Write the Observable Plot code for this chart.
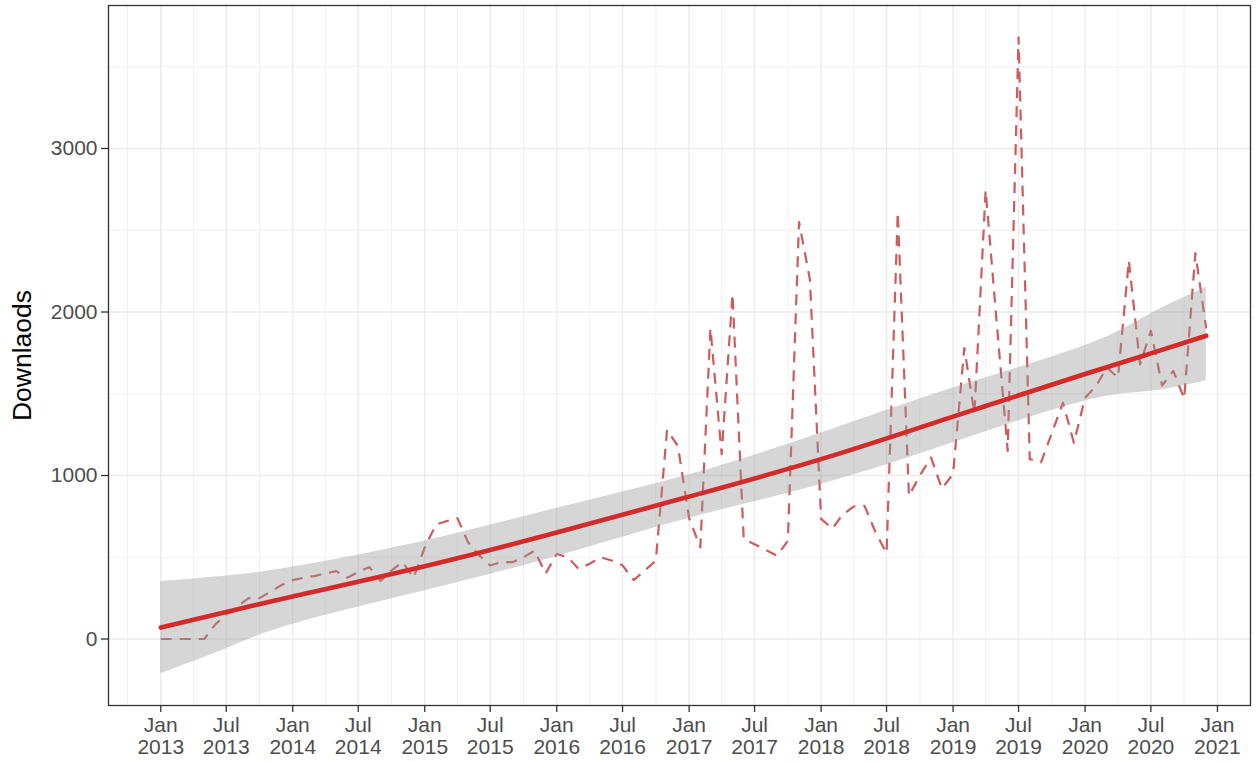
<!DOCTYPE html>
<html><head><meta charset="utf-8">
<script src="https://cdn.jsdelivr.net/npm/d3@7"></script>
<script src="https://cdn.jsdelivr.net/npm/@observablehq/plot@0.6"></script>
<style>body{margin:0;background:#fff} #chart svg{display:block}</style>
</head><body><div id="chart"></div>
<script>
// Monthly downloads, Jan 2013 – Dec 2020
const firstMonth = "2013-01";
const lastMonth = "2020-12";
const downloads = [
  0,0,0,0,0,90,150,200,250,250,290,330,
  360,375,385,400,415,375,410,440,355,420,470,375,
  560,700,720,740,590,510,450,470,470,500,540,400,
  520,500,430,460,500,480,450,360,420,480,1280,1180,
  740,560,1900,1130,2110,610,580,545,510,600,2550,2200,
  735,675,760,810,815,650,525,2610,875,1000,1110,920,
  1010,1780,1380,2745,1950,1150,3680,1100,1080,1260,1445,1200,
  1475,1550,1660,1600,2315,1680,1885,1550,1640,1470,2360,1900
];
// Smooth trend with 95% band
const smoothMonths = ["2013-01","2013-07","2014-01","2015-01","2016-01","2017-01","2018-01","2019-01","2020-01","2020-07","2020-12"];
const smoothFit   = [70, 165, 260, 445, 651, 871, 1100, 1360, 1621, 1747, 1855];
const smoothLower = [-212, -60, 90, 295, 505, 738, 945, 1200, 1455, 1515, 1580];
const smoothUpper = [351, 385, 440, 600, 800, 1005, 1260, 1535, 1795, 1990, 2150];
// Axis ticks
const xMajorTicks = ["2013-01","2013-07","2014-01","2014-07","2015-01","2015-07","2016-01","2016-07","2017-01","2017-07","2018-01","2018-07","2019-01","2019-07","2020-01","2020-07","2021-01"];
const xMinorTicks = ["2012-10","2013-04","2013-10","2014-04","2014-10","2015-04","2015-10","2016-04","2016-10","2017-04","2017-10","2018-04","2018-10","2019-04","2019-10","2020-04","2020-10","2021-04"];
const yMajorTicks = [0, 1000, 2000, 3000];
const yMinorTicks = [500, 1500, 2500, 3500];
const yTitle = "Downlaods";

const parse = s => new Date(s + "-01T00:00:00Z");
const months = d3.utcMonth.range(parse(firstMonth), d3.utcMonth.offset(parse(lastMonth), 1));
const data = months.map((d, i) => ({date: d, value: downloads[i]}));
const smooth = smoothMonths.map((m, i) => ({date: parse(m), fit: smoothFit[i], lo: smoothLower[i], hi: smoothUpper[i]}));

const x0 = months[0], x1 = months[months.length - 1];
const xs = x1 - x0;
const xDomain = [new Date(+x0 - 0.05 * xs), new Date(+x1 + 0.05 * xs)];
const yMin = Math.min(d3.min(downloads), d3.min(smoothLower));
const yMax = Math.max(d3.max(downloads), d3.max(smoothUpper));
const ys = yMax - yMin;
const yDomain = [yMin - 0.05 * ys, yMax + 0.05 * ys];

const font = "'Liberation Sans', Arial, Helvetica, sans-serif";
const fmt = d3.utcFormat("%b\n%Y");

const chart = Plot.plot({
  width: 1256,
  height: 762,
  marginLeft: 108,
  marginRight: 6,
  marginTop: 5,
  marginBottom: 57,
  style: {fontFamily: font, background: "#fff"},
  x: {type: "utc", domain: xDomain, range: [108, 1258]},
  y: {domain: yDomain},
  marks: [
    Plot.gridX(xMinorTicks.map(parse), {stroke: "#ebebeb", strokeOpacity: 1, strokeWidth: 0.7}),
    Plot.gridY(yMinorTicks, {stroke: "#ebebeb", strokeOpacity: 1, strokeWidth: 0.7}),
    Plot.gridX(xMajorTicks.map(parse), {stroke: "#ebebeb", strokeOpacity: 1, strokeWidth: 1.4}),
    Plot.gridY(yMajorTicks, {stroke: "#ebebeb", strokeOpacity: 1, strokeWidth: 1.4}),
    Plot.line(data, {x: "date", y: "value", stroke: "indianred", strokeWidth: 2.2, strokeDasharray: "11,8", strokeLinecap: "butt"}),
    Plot.areaY(smooth, {x: "date", y1: "lo", y2: "hi", fill: "#999999", fillOpacity: 0.4, curve: "natural"}),
    Plot.line(smooth, {x: "date", y: "fit", stroke: "#d42a2a", strokeWidth: 4.6, curve: "natural"}),
    Plot.frame({stroke: "#333333", strokeWidth: 1.3}),
    Plot.axisX(xMajorTicks.map(parse), {
      tickSize: 7, tickPadding: 4, stroke: "#333333", strokeWidth: 1.3,
      fill: "#4d4d4d", fontSize: 21, lineHeight: 1.05,
      tickFormat: fmt, label: null
    }),
    Plot.axisY(yMajorTicks, {
      tickSize: 7, tickPadding: 4, stroke: "#333333", strokeWidth: 1.3,
      fill: "#4d4d4d", fontSize: 21, tickFormat: d => String(d), label: null
    }),
    Plot.text([yTitle], {frameAnchor: "left", textAnchor: "middle", dx: -86, rotate: -90, fontSize: 26.5, fill: "#000", text: d => d})
  ]
});
document.getElementById("chart").appendChild(chart);
</script>
</body></html>
